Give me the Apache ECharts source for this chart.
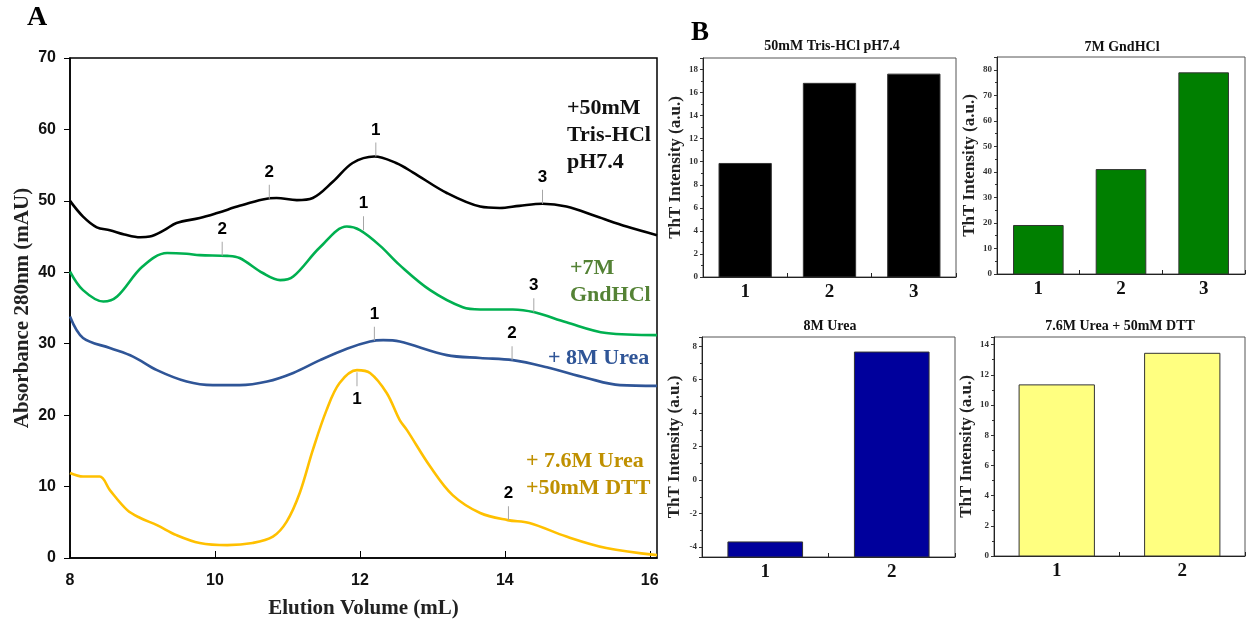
<!DOCTYPE html>
<html>
<head>
<meta charset="utf-8">
<script src="https://cdn.jsdelivr.net/npm/echarts@6/dist/echarts.min.js"></script>
<style>html,body{margin:0;padding:0;background:#fff}#c{width:1246px;height:624px}</style>
</head>
<body>
<div id="c"></div>
<script>
// ---------- Panel A: elution profiles [volume mL, absorbance mAU] ----------
const trisCurve = [[8,50],[8.18,47.8],[8.37,46.3],[8.55,45.9],[8.75,45.3],[8.97,44.9],[9.1,45],[9.3,45.9],[9.47,46.9],[9.79,47.6],[10.03,48.3],[10.34,49.3],[10.66,50.2],[10.85,50.4],[11.13,50.1],[11.35,50.4],[11.63,52.7],[11.9,55.3],[12.2,56.2],[12.5,55.3],[12.73,54.0],[13.2,51.1],[13.66,49.2],[13.93,49.0],[14.2,49.3],[14.52,49.6],[14.85,49.2],[15.27,47.8],[15.68,46.4],[16.1,45.2]];
const gndCurve = [[8,40.1],[8.18,37.5],[8.46,35.9],[8.65,36.6],[9.0,40.8],[9.34,42.7],[9.61,42.6],[9.79,42.4],[10.17,42.3],[10.34,42.0],[10.66,39.9],[10.9,38.9],[11.08,39.4],[11.45,43.5],[11.82,46.4],[12.0,45.9],[12.28,43.7],[12.55,41.0],[12.97,37.5],[13.42,35.1],[13.66,34.8],[14.11,34.8],[14.41,34.4],[14.85,33.0],[15.4,31.5],[16.1,31.2]];
const ureaCurve = [[8,33.8],[8.18,30.8],[8.55,29.4],[8.87,28.2],[9.2,26.3],[9.61,24.7],[9.97,24.2],[10.34,24.2],[10.72,24.7],[11.08,25.9],[11.45,27.7],[11.82,29.3],[12.14,30.3],[12.32,30.5],[12.55,30.3],[13.2,28.4],[13.66,28.0],[14.11,27.7],[14.58,26.7],[15.13,25.2],[15.59,24.2],[16.1,24.1]];
const dttCurve = [[8,11.9],[8.18,11.4],[8.41,11.4],[8.55,9.5],[8.79,6.7],[8.97,5.6],[9.2,4.6],[9.47,3.2],[9.79,2.1],[10.17,1.8],[10.52,2.1],[10.8,3.0],[10.99,5.1],[11.17,9.1],[11.35,15.1],[11.54,20.7],[11.72,24.5],[11.96,26.3],[12.14,25.9],[12.37,23.1],[12.55,19.3],[12.65,17.9],[12.97,12.8],[13.28,8.8],[13.66,6.3],[14.04,5.3],[14.34,4.9],[14.85,3.0],[15.4,1.4],[16.1,0.4]];

// peak annotations [x, y, label, placement]
const trisPeaks = [[10.75,50.3,'2','up'],[12.22,56.2,'1','up'],[14.52,49.6,'3','up']];
const gndPeaks  = [[10.1,42.3,'2','up'],[12.05,45.9,'1','up'],[14.4,34.4,'3','up']];
const ureaPeaks = [[12.2,30.4,'1','up'],[14.1,27.7,'2','up']];
const dttPeaks  = [[11.96,26.3,'1','down'],[14.05,5.3,'2','up']];

const xTicksA = [8,10,12,14,16];

// ---------- Panel B: ThT intensity ----------
const trisCats = ['1','2','3'];
const trisTht  = [9.85,16.8,17.6];
const gndCats  = ['1','2','3'];
const gndTht   = [19.0,40.9,78.8];
const ureaCats = ['1','2'];
const ureaTht  = [-3.7,7.65];
const dttCats  = ['1','2'];
const dttTht   = [11.33,13.42];

const SERIF = 'Liberation Serif';
const SANS = 'Liberation Sans';

function peakData(arr){
  return arr.map(p => {
    const down = p[3] === 'down';
    return {
      value:[p[0],p[1]],
      symbolOffset:[0, down ? 9 : -7],
      label:{formatter:p[2], position: down ? 'bottom' : 'top', distance: down ? 5 : 4}
    };
  });
}
function peakSeries(arr){
  return {
    type:'scatter', xAxisIndex:0, yAxisIndex:0, silent:true,
    symbol:'rect', symbolSize:[1,14], itemStyle:{color:'#a6a6a6', opacity:1},
    label:{show:true, color:'#000', fontFamily:SANS, fontWeight:'bold', fontSize:17, opacity:1},
    data: peakData(arr), z:5
  };
}
function lineSeries(data, color){
  return {type:'line', xAxisIndex:0, yAxisIndex:0, data, smooth:0.35, showSymbol:false,
    lineStyle:{color, width:2.6}, itemStyle:{color}, z:3};
}
function barSeries(idx, vals, frac, color, base){
  return {
    type:'custom', xAxisIndex:idx, yAxisIndex:idx,
    data: vals.map((v,i)=>[i,v]),
    encode:{x:0, y:1},
    renderItem:function(params, api){
      const c = api.value(0), v = api.value(1);
      const top = api.coord([c, v]);
      const bot = api.coord([c, base]);
      const w = api.size([1,0])[0] * frac;
      return {type:'rect', shape:{x:top[0]-w/2, y:top[1], width:w, height:bot[1]-top[1]},
        style:{fill:color, stroke:'#333', lineWidth:1}};
    }
  };
}
function bX(idx, cats){
  return {type:'category', gridIndex:idx, data:cats, boundaryGap:true,
    axisLine:{onZero:false, lineStyle:{color:'#222', width:1}},
    axisTick:{show:true, inside:true, length:4, lineStyle:{color:'#222'}},
    axisLabel:{fontFamily:SERIF, fontWeight:'bold', fontSize:19, color:'#111', margin:6},
    splitLine:{show:false}};
}
function bY(idx, min, max, interval, extra){
  const ax = {type:'value', gridIndex:idx, min, max,
    name:'ThT Intensity (a.u.)', nameLocation:'middle', nameGap:19,
    nameTextStyle:{fontFamily:SERIF, fontWeight:'bold', fontSize:17, color:'#222'},
    axisLine:{show:true, onZero:false, lineStyle:{color:'#222', width:1}},
    axisTick:{show:true, inside:false, length:3, lineStyle:{color:'#333'}},
    minorTick:{show:true, splitNumber:2, length:2, lineStyle:{color:'#333'}},
    axisLabel:{fontFamily:SERIF, fontWeight:'bold', fontSize:9, color:'#333', margin:5, showMaxLabel:false, showMinLabel:true},
    splitLine:{show:false}};
  if (interval) ax.interval = interval;
  return Object.assign(ax, extra || {});
}

const chart = echarts.init(document.getElementById('c'), null, {renderer:'canvas'});
const option = {
  animation:false,
  backgroundColor:'#fff',
  grid:[
    {left:70, top:58, right:589, bottom:66, show:true, borderColor:'#000', borderWidth:1.5, containLabel:false},
    {left:703, top:58, right:290, bottom:347, show:true, borderColor:'#555', borderWidth:1},
    {left:997, top:57, right:1, bottom:350, show:true, borderColor:'#555', borderWidth:1},
    {left:702, top:337, right:291, bottom:67, show:true, borderColor:'#555', borderWidth:1},
    {left:994, top:337, right:1, bottom:68, show:true, borderColor:'#555', borderWidth:1}
  ],
  xAxis:[
    {type:'value', gridIndex:0, min:8, max:16.1, interval:2,
      name:'Elution Volume (mL)', nameLocation:'middle', nameGap:40,
      nameTextStyle:{fontFamily:SERIF, fontWeight:'bold', fontSize:21, color:'#222'},
      axisLine:{onZero:false, lineStyle:{color:'#000', width:1.5}},
      axisTick:{inside:true, length:7, lineStyle:{color:'#000'}},
      axisLabel:{fontFamily:SANS, fontWeight:'bold', fontSize:16, color:'#111', margin:15, showMaxLabel:false,
        formatter:v => xTicksA.indexOf(v) >= 0 ? String(v) : ''},
      splitLine:{show:false}},
    bX(1, trisCats), bX(2, gndCats), bX(3, ureaCats), bX(4, dttCats)
  ],
  yAxis:[
    {type:'value', gridIndex:0, min:0, max:70, interval:10,
      name:'Absorbance 280nm (mAU)', nameLocation:'middle', nameGap:37,
      nameTextStyle:{fontFamily:SERIF, fontWeight:'bold', fontSize:21, color:'#222'},
      axisLine:{show:true, onZero:false, lineStyle:{color:'#000', width:1.5}},
      axisTick:{show:true, inside:false, length:6, lineStyle:{color:'#000'}},
      axisLabel:{fontFamily:SANS, fontWeight:'bold', fontSize:16, color:'#111', margin:14},
      splitLine:{show:false}},
    bY(1, 0, 19, 2),
    bY(2, 0, 85, 10),
    bY(3, -4.6, 8.55, null, {splitNumber:6, axisLabel:{fontFamily:SERIF, fontWeight:'bold', fontSize:9, color:'#333', margin:5, showMaxLabel:false, showMinLabel:false}}),
    bY(4, 0, 14.5, 2)
  ],
  series:[
    lineSeries(trisCurve, '#000000'),
    lineSeries(gndCurve, '#00B050'),
    lineSeries(ureaCurve, '#2F5597'),
    lineSeries(dttCurve, '#FFC000'),
    peakSeries(trisPeaks), peakSeries(gndPeaks), peakSeries(ureaPeaks), peakSeries(dttPeaks),
    barSeries(1, trisTht, 0.62, '#000000', 0),
    barSeries(2, gndTht, 0.60, '#007F00', 0),
    barSeries(3, ureaTht, 0.59, '#00009C', -4.6),
    barSeries(4, dttTht, 0.60, '#FFFF80', 0)
  ],
  graphic:[
    {type:'text', x:37, y:18, style:{text:'A', fontFamily:SERIF, fontWeight:'bold', fontSize:28, fill:'#000', align:'center', verticalAlign:'middle'}},
    {type:'text', x:700, y:33, style:{text:'B', fontFamily:SERIF, fontWeight:'bold', fontSize:27, fill:'#000', align:'center', verticalAlign:'middle'}},
    {type:'text', x:567, y:135, style:{text:'+50mM\nTris-HCl\npH7.4', lineHeight:27, fontFamily:SERIF, fontWeight:'bold', fontSize:22, fill:'#111', align:'left', verticalAlign:'middle'}},
    {type:'text', x:570, y:282, style:{text:'+7M\nGndHCl', lineHeight:27, fontFamily:SERIF, fontWeight:'bold', fontSize:22, fill:'#548235', align:'left', verticalAlign:'middle'}},
    {type:'text', x:548, y:358, style:{text:'+ 8M Urea', fontFamily:SERIF, fontWeight:'bold', fontSize:22, fill:'#2F5597', align:'left', verticalAlign:'middle'}},
    {type:'text', x:526, y:475, style:{text:'+ 7.6M Urea\n+50mM DTT', lineHeight:27, fontFamily:SERIF, fontWeight:'bold', fontSize:22, fill:'#BF9000', align:'left', verticalAlign:'middle'}},
    {type:'text', x:832, y:46, style:{text:'50mM Tris-HCl pH7.4', fontFamily:SERIF, fontWeight:'bold', fontSize:14, fill:'#111', align:'center', verticalAlign:'middle'}},
    {type:'text', x:1122, y:47, style:{text:'7M GndHCl', fontFamily:SERIF, fontWeight:'bold', fontSize:14, fill:'#111', align:'center', verticalAlign:'middle'}},
    {type:'text', x:830, y:326, style:{text:'8M Urea', fontFamily:SERIF, fontWeight:'bold', fontSize:14, fill:'#111', align:'center', verticalAlign:'middle'}},
    {type:'text', x:1120, y:326, style:{text:'7.6M Urea + 50mM DTT', fontFamily:SERIF, fontWeight:'bold', fontSize:14, fill:'#111', align:'center', verticalAlign:'middle'}}
  ]
};
chart.setOption(option);
</script>
</body>
</html>
